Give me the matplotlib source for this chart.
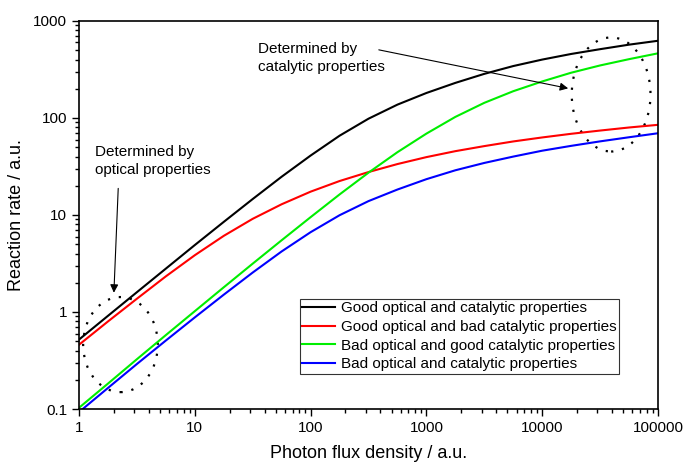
import numpy as np
import matplotlib
matplotlib.use('Agg')
import matplotlib.pyplot as plt
from matplotlib.patches import Ellipse
from matplotlib.ticker import FixedLocator, NullFormatter

plt.rcParams['font.family'] = ['Liberation Sans', 'DejaVu Sans']

# Values at quarter-decade steps
flux = [1, 1.78, 3.16, 5.62, 10, 17.8, 31.6, 56.2, 100, 178, 316, 562,
        1000, 1778, 3162, 5623, 10000, 17783, 31623, 56234, 100000]
good_good = [0.52, 0.914, 1.60, 2.80, 4.9, 8.5, 14.6, 24.8, 41, 65.7, 98.3, 137.3,
             181, 230, 285, 343, 400, 457, 512, 570, 625]
good_bad = [0.46, 0.80, 1.37, 2.33, 3.85, 6.1, 9.13, 12.9, 17.4, 22.4, 27.7, 33.5,
            39.5, 45.5, 51.3, 57.3, 63, 68.7, 74.2, 79.8, 85]
bad_good = [0.103, 0.183, 0.326, 0.578, 1.02, 1.80, 3.15, 5.49, 9.5, 16.3, 27.3, 44.4,
            69, 102.6, 143.3, 188.8, 238, 292.8, 348, 404, 464]
bad_bad = [0.093, 0.165, 0.291, 0.508, 0.88, 1.51, 2.55, 4.21, 6.65, 9.95, 13.9, 18.3,
           23.4, 28.9, 34.4, 40.0, 46, 51.6, 57.4, 63.3, 69.6]

labels = ['Good optical and catalytic properties',
          'Good optical and bad catalytic properties',
          'Bad optical and good catalytic properties',
          'Bad optical and catalytic properties']
colors = ['black', '#ff0000', '#00ee00', '#0000ff']

x_ticks = [1, 10, 100, 1000, 10000, 100000]
x_ticklabels = ['1', '10', '100', '1000', '10000', '100000']
y_ticks = [0.1, 1, 10, 100, 1000]
y_ticklabels = ['0.1', '1', '10', '100', '1000']

fig = plt.figure(figsize=(6.86, 4.66), dpi=100)
ax = fig.add_axes([0.1152, 0.1223, 0.8440, 0.8327])

series = [good_good, good_bad, bad_good, bad_bad]
for ys, lab, c in zip(series, labels, colors):
    ax.plot(flux, ys, color=c, lw=1.5, label=lab)

ax.set_xscale('log')
ax.set_yscale('log')
ax.set_xlim(1, 100000)
ax.set_ylim(0.1, 1000)

ax.xaxis.set_major_locator(FixedLocator(x_ticks))
ax.set_xticklabels(x_ticklabels)
ax.yaxis.set_major_locator(FixedLocator(y_ticks))
ax.set_yticklabels(y_ticklabels)
ax.xaxis.set_minor_formatter(NullFormatter())
ax.yaxis.set_minor_formatter(NullFormatter())
ax.tick_params(which='both', direction='out', top=False, right=False,
               labelsize=11, width=1.0)
ax.tick_params(which='major', length=5)
ax.tick_params(which='minor', length=3)
for sp in ax.spines.values():
    sp.set_linewidth(1.2)

ax.set_xlabel('Photon flux density / a.u.', fontsize=13, labelpad=7)
ax.set_ylabel('Reaction rate / a.u.', fontsize=13, labelpad=6)

# dotted ellipses (axes fraction coordinates)
ax.add_patch(Ellipse((0.0716, 0.166), 0.129, 0.245, transform=ax.transAxes,
                     fill=False, ls=(0, (1, 4)), lw=1.6, color='black'))
ax.add_patch(Ellipse((0.919, 0.8106), 0.136, 0.294, transform=ax.transAxes,
                     fill=False, ls=(0, (1, 4)), lw=1.6, color='black'))

# annotations
ax.annotate('', xy=(2.0, 1.58), xytext=(2.18, 18.8),
            arrowprops=dict(arrowstyle='-|>', color='black', lw=0.8,
                            mutation_scale=12, shrinkA=0, shrinkB=0))
ax.text(1.37, 36, 'Determined by\noptical properties', fontsize=11,
        ha='left', va='center', linespacing=1.3)
ax.annotate('', xy=(16750, 202), xytext=(388, 504),
            arrowprops=dict(arrowstyle='-|>', color='black', lw=0.8,
                            mutation_scale=12, shrinkA=0, shrinkB=0))
ax.text(35, 415, 'Determined by\ncatalytic properties', fontsize=11,
        ha='left', va='center', linespacing=1.3)

leg = ax.legend(loc='upper left', bbox_to_anchor=(0.382, 0.283), fontsize=11,
                frameon=True, fancybox=False, borderaxespad=0, borderpad=0.15,
                handlelength=2.1, handletextpad=0.4, labelspacing=0.3)
leg.get_frame().set_edgecolor('black')
leg.get_frame().set_linewidth(0.8)

fig.savefig('out.png', dpi=100)
